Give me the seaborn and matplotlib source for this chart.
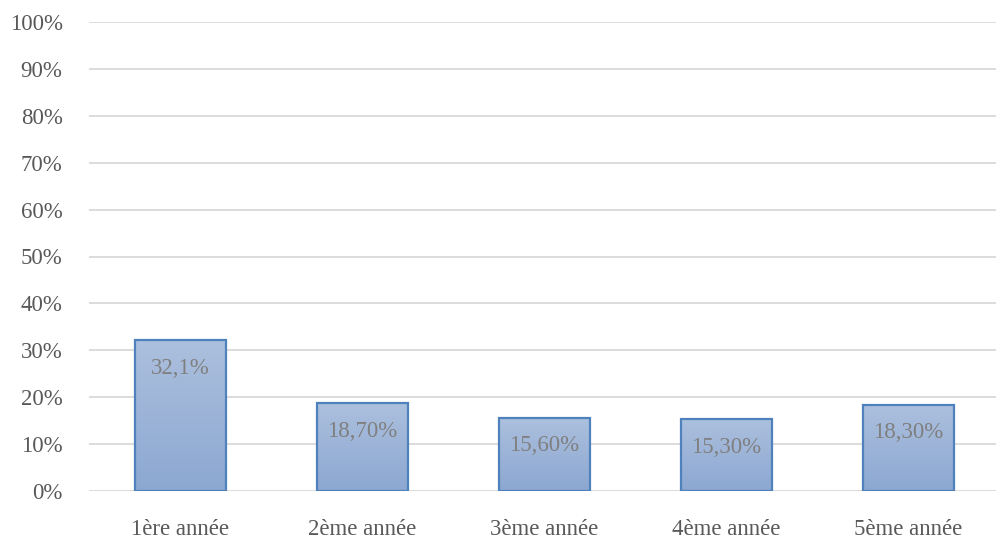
import numpy as np
import pandas as pd
import matplotlib
matplotlib.use("Agg")
import matplotlib.pyplot as plt
from matplotlib.colors import LinearSegmentedColormap
import seaborn as sns

categories = ["1ère année", "2ème année", "3ème année", "4ème année", "5ème année"]
values = [32.1, 18.7, 15.6, 15.3, 18.3]
value_labels = ["32,1%", "18,70%", "15,60%", "15,30%", "18,30%"]
y_ticks = [0, 10, 20, 30, 40, 50, 60, 70, 80, 90, 100]

sns.set_theme(style="white")
plt.rcParams["font.family"] = ["Liberation Serif", "DejaVu Serif"]

df = pd.DataFrame({"annee": categories, "pct": values})

fig = plt.figure(figsize=(9.96, 5.40), dpi=100)
ax = fig.add_axes([89 / 996, 49 / 540, 910 / 996, 469 / 540])

sns.barplot(data=df, x="annee", y="pct", ax=ax, width=0.5,
            color="#9DB3D8", edgecolor="#4F81BD", linewidth=1.6, zorder=3)

ax.set_ylim(0, 100)
ax.set_xlim(-0.5, len(categories) - 0.5)
ax.set_yticks(y_ticks)
ax.set_yticklabels([f"{t}%" for t in y_ticks])
ax.yaxis.grid(True, color="#D9D9D9", linewidth=1.3, zorder=0)
ax.set_axisbelow(True)
for s in ax.spines.values():
    s.set_visible(False)
ax.set_xlabel("")
ax.set_ylabel("")
ax.tick_params(axis="both", length=0, labelsize=16.5, labelcolor="#595959")
ax.tick_params(axis="y", pad=19)
ax.tick_params(axis="x", pad=20)

# vertical gradient fill inside each bar
cmap = LinearSegmentedColormap.from_list("bar", ["#8CA7D1", "#ACC0DE"])
grad = np.linspace(0, 1, 256).reshape(-1, 1)
for patch in ax.patches:
    x0, y0 = patch.get_x(), patch.get_y()
    w, h = patch.get_width(), patch.get_height()
    im = ax.imshow(grad, cmap=cmap, aspect="auto", origin="lower",
                   extent=[x0, x0 + w, y0, y0 + h], zorder=3.5)
    im.set_clip_path(patch)
    patch.set_facecolor("none")
    patch.set_zorder(4)
ax.set_xlim(-0.5, len(categories) - 0.5)
ax.set_ylim(0, 100)

for i, (v, lab) in enumerate(zip(values, value_labels)):
    ax.annotate(lab, xy=(i, v), xytext=(0, -20), textcoords="offset points",
                ha="center", va="center", fontsize=16.5, color="#7F7F7F", zorder=5)

fig.savefig("out.png", dpi=100)
